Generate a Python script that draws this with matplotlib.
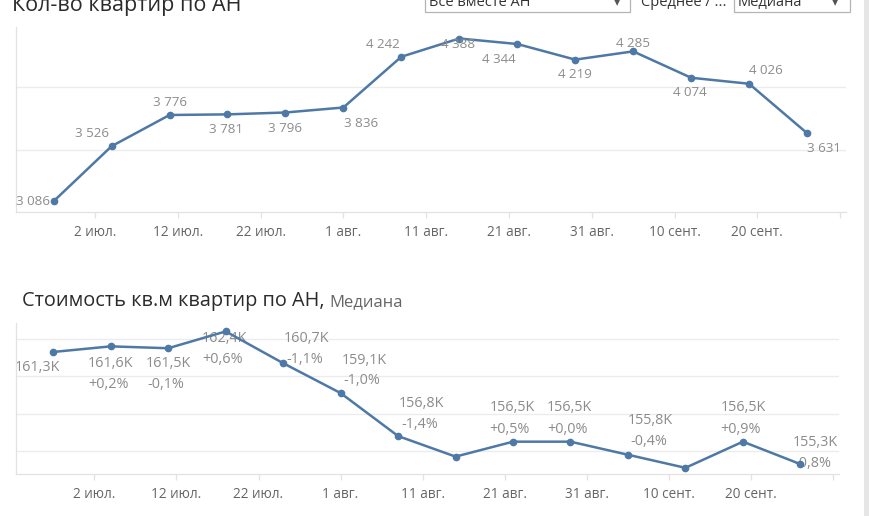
import matplotlib
matplotlib.use("Agg")
import matplotlib.pyplot as plt
from matplotlib.patches import Rectangle
import pandas as pd

plt.rcParams['font.family'] = ['Open Sans', 'DejaVu Sans']

# ---------------- data ----------------
week_dates = ["2021-06-27", "2021-07-04", "2021-07-11", "2021-07-18", "2021-07-25",
              "2021-08-01", "2021-08-08", "2021-08-15", "2021-08-22", "2021-08-29",
              "2021-09-05", "2021-09-12", "2021-09-19", "2021-09-26"]
count_values = [3086, 3526, 3776, 3781, 3796, 3836, 4242, 4388, 4344, 4219, 4285, 4074, 4026, 3631]
count_labels = ["3 086", "3 526", "3 776", "3 781", "3 796", "3 836", "4 242", "4 388",
                "4 344", "4 219", "4 285", "4 074", "4 026", "3 631"]
price_values = [161.3, 161.6, 161.5, 162.4, 160.7, 159.1, 156.8, 155.7, 156.5, 156.5,
                155.8, 155.1, 156.5, 155.3]
price_labels = ["161,3K", "161,6K", "161,5K", "162,4K", "160,7K", "159,1K", "156,8K", "",
                "156,5K", "156,5K", "155,8K", "", "156,5K", "155,3K"]
price_change_labels = ["", "+0,2%", "-0,1%", "+0,6%", "-1,1%", "-1,0%", "-1,4%", "",
                       "+0,5%", "+0,0%", "-0,4%", "", "+0,9%", "-0,8%"]
tick_dates = ["2021-07-02", "2021-07-12", "2021-07-22", "2021-08-01", "2021-08-11",
              "2021-08-21", "2021-08-31", "2021-09-10", "2021-09-20", "2021-09-30"]
tick_labels = ["2 июл.", "12 июл.", "22 июл.", "1 авг.", "11 авг.", "21 авг.", "31 авг.",
               "10 сент.", "20 сент.", ""]
title_top = "Кол-во квартир по АН"
title_bottom = "Стоимость кв.м квартир по АН,"
title_bottom_sub = "Медиана"
filter_1 = "Все вместе АН"
filter_label = "Среднее / ..."
filter_2 = "Медиана"

# ---------------- layout / style ----------------
W, H = 869, 516
LINE = "#4e79a7"
LBL = "#8c8c8c"
GRID = "#ececec"
AXC = "#e2e2e2"

dates = pd.to_datetime(week_dates)
tdates = pd.to_datetime(tick_dates)
xlim = (pd.Timestamp("2021-06-22 11:00"), pd.Timestamp("2021-09-30 17:00"))

fig = plt.figure(figsize=(W / 100, H / 100), dpi=100)
fig.patch.set_facecolor("white")


def axrect(l, t, r, b):
    return [l / W, 1 - b / H, (r - l) / W, (b - t) / H]


def style_axes(ax, grid_vals):
    for s in ["top", "right"]:
        ax.spines[s].set_visible(False)
    ax.spines["left"].set_color(AXC)
    ax.spines["bottom"].set_color(AXC)
    ax.spines["left"].set_linewidth(0.9)
    ax.spines["bottom"].set_linewidth(0.9)
    ax.set_yticks(grid_vals)
    ax.yaxis.set_tick_params(length=0, labelleft=False)
    ax.grid(axis="y", color=GRID, linewidth=1.0)
    ax.set_axisbelow(True)
    ax.set_xlim(*xlim)
    ax.set_xticks(tdates)
    ax.set_xticklabels(tick_labels)
    ax.tick_params(axis="x", direction="out", length=4.5, color=AXC, width=0.9,
                   pad=4.5, labelsize=9.8, labelcolor="#666666")


# ---- top chart ----
ax1 = fig.add_axes(axrect(16, 27, 846, 212))
ax1.plot(dates, count_values, color=LINE, linewidth=1.8, marker="o", markersize=4.5, zorder=3)
ax1.set_ylim(3000, 4480)
style_axes(ax1, [3500, 4000])

top_offsets = [(-21, 0), (-20, -13), (0, -12.5), (-1, 15), (0, 15.5), (17.5, 15.5),
               (-18, -12), (-1, 5.5), (-18, 15), (0, 15), (0, -8), (-1, 15),
               (17, -13.5), (17, 15.5)]
for d, v, t, (dx, dy) in zip(dates, count_values, count_labels, top_offsets):
    ax1.annotate(t, (d, v), xytext=(dx, -dy), textcoords="offset pixels",
                 ha="center", va="center", fontsize=9.6, color=LBL, zorder=4)

# ---- bottom chart ----
ax2 = fig.add_axes(axrect(16, 323, 839, 474))
ax2.plot(dates, price_values, color=LINE, linewidth=1.8, marker="o", markersize=4.5, zorder=3)
ax2.set_ylim(154.77, 162.85)
style_axes(ax2, [156, 158, 160, 162])

val_offsets = [(-16, 16), (0, 17), (0, 15), (-1, 7), (23.5, -24.5), (23.5, -32.5),
               (23, -33), (0, 0), (-1, -33.7), (-1, -33.7), (22, -34), (0, 0),
               (0, -33.7), (14.5, -21.3)]
chg_offsets = [(0, 0), (-2.5, 37.7), (-2, 36.4), (-3.5, 28.4), (21.5, -4), (21.5, -12.3),
               (21.5, -12), (0, 0), (-3.3, -12.3), (-3.2, -12.3), (20.7, -12.9), (0, 0),
               (-2.6, -12.3), (13, -0.5)]
for d, v, t, c, (dx, dy), (cx, cy) in zip(dates, price_values, price_labels,
                                          price_change_labels, val_offsets, chg_offsets):
    if t:
        ax2.annotate(t, (d, v), xytext=(dx, -dy), textcoords="offset pixels",
                     ha="center", va="center", fontsize=10.4, color=LBL, zorder=2)
    if c:
        ax2.annotate(c, (d, v), xytext=(cx, -cy), textcoords="offset pixels",
                     ha="center", va="center", fontsize=10.4, color=LBL, zorder=2)

# ---- titles ----
fig.text(12 / W, 1 - 11 / H, title_top, fontsize=15.5, color="#2b2b2b", va="baseline", ha="left")
tb = fig.text(22 / W, 1 - 306 / H, title_bottom, fontsize=14.3, color="#2b2b2b",
              va="baseline", ha="left")
fig.canvas.draw()
bb = tb.get_window_extent()
fig.text((bb.x1 + 5) / W, 1 - 306 / H, title_bottom_sub, fontsize=12, color="#666666",
         va="baseline", ha="left")

# ---- filter controls at top (partly cut off, as in the source screenshot) ----
def px_rect(l, t, r, b, **kw):
    fig.patches.append(Rectangle((l / W, 1 - b / H), (r - l) / W, (b - t) / H,
                                 transform=fig.transFigure, figure=fig, **kw))


px_rect(425, -8, 630, 12, facecolor="white", edgecolor="#b5b5b5", linewidth=0.9)
px_rect(734, -8, 850, 12, facecolor="white", edgecolor="#b5b5b5", linewidth=0.9)
fig.text(429 / W, 1 - 6 / H, filter_1, fontsize=10.5, color="#333333", va="baseline")
fig.text(614 / W, 1 - 6 / H, "▾", fontsize=9, color="#555555", va="baseline",
         family=["DejaVu Sans"])
fig.text(641 / W, 1 - 6 / H, filter_label, fontsize=10.5, color="#333333", va="baseline")
fig.text(738 / W, 1 - 6 / H, filter_2, fontsize=10.5, color="#333333", va="baseline")
fig.text(832 / W, 1 - 6 / H, "▾", fontsize=9, color="#555555", va="baseline",
         family=["DejaVu Sans"])

# scrollbar on the right
px_rect(864, 0, 869, 516, facecolor="#e6e6e6", edgecolor="none")

fig.savefig("out.png", dpi=100, facecolor="white")
